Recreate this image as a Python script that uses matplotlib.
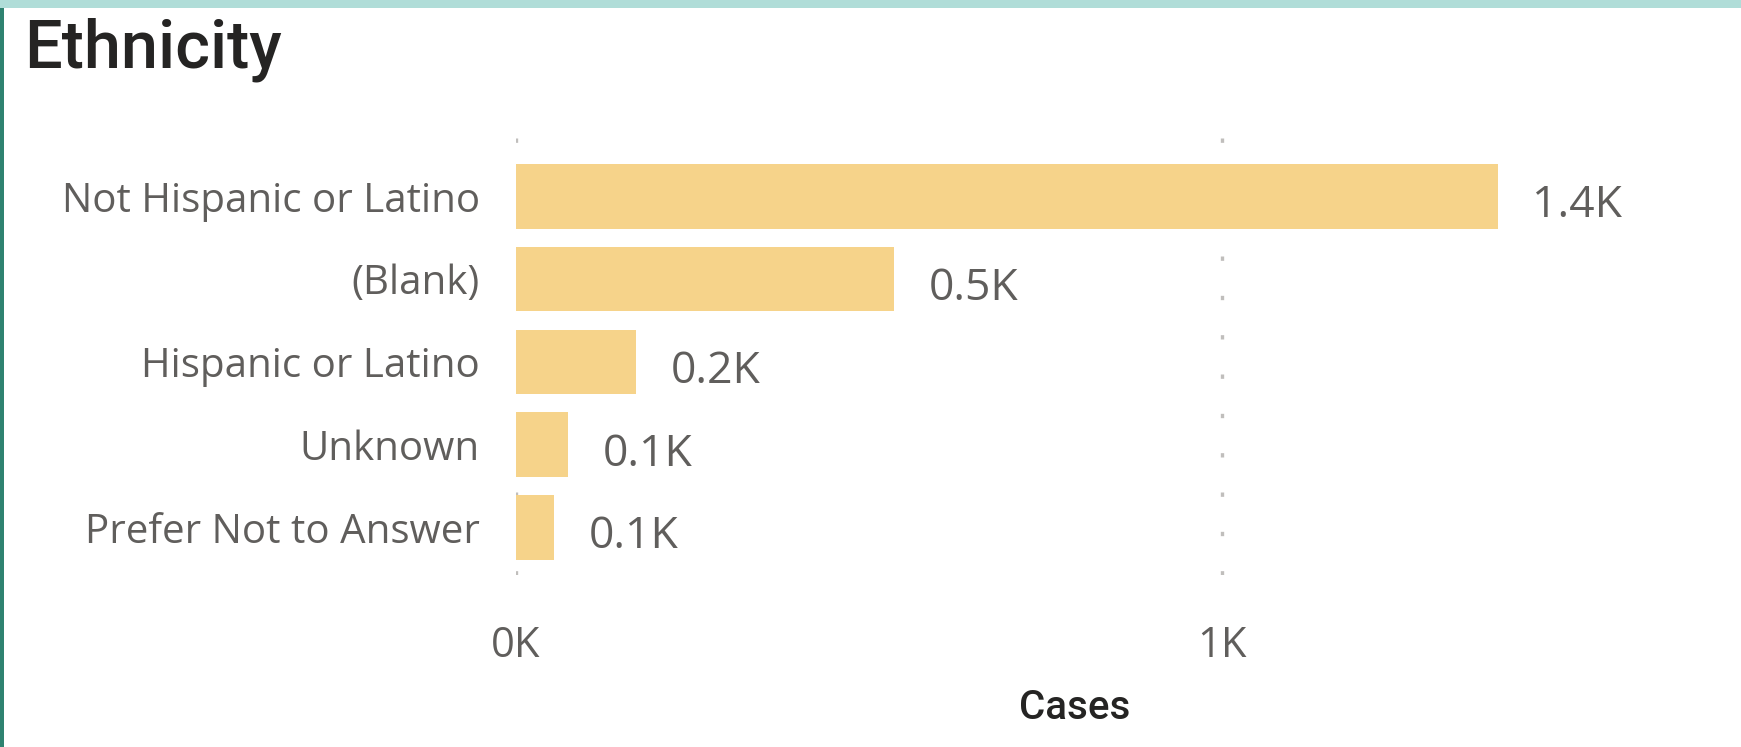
import matplotlib.pyplot as plt
from matplotlib.patches import Rectangle

# Ethnicity breakdown (cases)
categories = ["Not Hispanic or Latino", "(Blank)", "Hispanic or Latino", "Unknown", "Prefer Not to Answer"]
cases = [1390, 535, 170, 73, 54]
xticks = [0, 1000]
xtick_labels = ["0K", "1K"]

W, H = 1741, 747
fig = plt.figure(figsize=(W / 100, H / 100), dpi=100)

# frame decorations (top band + left edge)
fig.patches.append(Rectangle((0, 1 - 8 / H), 1, 8 / H, transform=fig.transFigure,
                             facecolor="#B0DDD8", edgecolor="none"))
fig.patches.append(Rectangle((0, 0), 4 / W, 1 - 8 / H, transform=fig.transFigure,
                             facecolor="#2E8270", edgecolor="none"))

left, right, top, bottom = 516, 1634, 135, 575
ax = fig.add_axes([left / W, 1 - bottom / H, (right - left) / W, (bottom - top) / H])

y = list(range(len(categories)))
ax.barh(y, cases, height=0.78, color="#F6D38A", zorder=2)

ax.set_xlim(0, 1583)
ax.set_ylim(4.577, -0.744)

ax.set_xticks(xticks)
ax.set_xticklabels(xtick_labels)
ax.set_yticks(y)
ax.set_yticklabels(categories)

label_font = "Open Sans"
ax.tick_params(axis="x", length=0, pad=36, labelsize=30, labelcolor="#605E5C")
ax.tick_params(axis="y", length=0, pad=26, labelsize=29, labelcolor="#605E5C")
for t in ax.get_xticklabels() + ax.get_yticklabels():
    t.set_fontfamily(label_font)

ax.grid(axis="x", color="#C0BEBC", linewidth=2.4, linestyle=(0, (1.3, 10.5)), zorder=0)
ax.grid(axis="y", visible=False)
for s in ax.spines.values():
    s.set_visible(False)

for yi, v in zip(y, cases):
    ax.annotate(f"{v / 1000:.1f}K", xy=(v, yi), xytext=(25, -7), textcoords="offset points",
                ha="left", va="center", fontsize=32, color="#605E5C", family=label_font,
                annotation_clip=False)

ax.set_xlabel("Cases", fontsize=29, color="#252423", family="Roboto", fontweight="medium")
ax.xaxis.label.set_va("baseline")
ax.xaxis.set_label_coords(0.5, -(719 - bottom) / (bottom - top))

fig.text(24 / W, 1 - 68 / H, "Ethnicity", fontsize=48, color="#252423", family="Roboto",
         fontweight="medium", va="baseline", ha="left")

fig.savefig("out.png", dpi=100, facecolor="white")
